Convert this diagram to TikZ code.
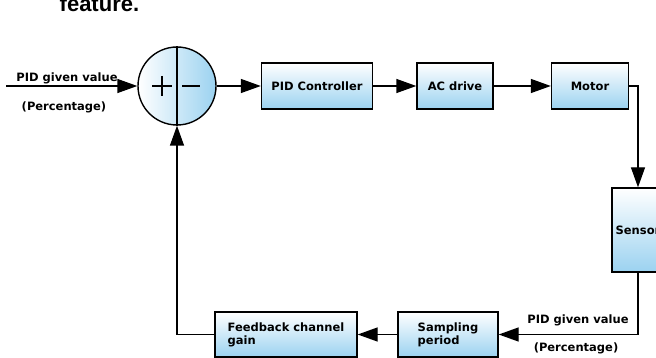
\documentclass[tikz,border=0pt]{standalone}
\usepackage{fontspec}
\setmainfont{DejaVu Sans}
\newfontfamily\headfont{Liberation Sans}
\usetikzlibrary{arrows.meta}
\definecolor{boxblue}{RGB}{155,210,240}

\begin{document}
\begin{tikzpicture}[x=1pt,y=-1pt,line width=1.4pt,
    font=\bfseries\fontsize{11.5}{13}\selectfont,
    blk/.style={draw,top color=white,bottom color=boxblue,minimum height=46pt,inner sep=2pt,align=left},
    arr/.style={-{Triangle[length=20pt,width=14pt]}},
    lbl/.style={inner sep=0pt}]
          % Frame of the picture
          \path[use as bounding box,clip] (0,0) rectangle (656,358);
          % Cut-off heading
          \node[lbl,anchor=base west,font=\headfont\bfseries\fontsize{22}{24}\selectfont] (head) at (59,12) {feature.};
          % Summing point
          \node[draw,circle,minimum size=78pt,left color=white,right color=boxblue] (sum) at (177,86) {};
          \draw[line width=1.2pt] (sum.north) -- (sum.south);
          \draw[line width=1.2pt,shift={(sum.center)}] (-25,0) -- (-5,0) (-15,-10) -- (-15,10) (5,0) -- (23,0);
          % Forward path
          \node[blk,minimum width=111pt] (pid) at (317,86) {PID Controller};
          \node[blk,minimum width=76pt] (acd) at (455,86) {AC drive};
          \node[blk,minimum width=77pt] (motor) at (590,86) {Motor};
          \node[blk,minimum width=52pt,minimum height=84pt] (sensor) at (638,230) {Sensor};
          % Feedback path
          \node[blk,minimum width=100pt,minimum height=45pt] (samp) at (448,334.5) {Sampling\\period};
          \node[blk,minimum width=142pt,minimum height=45pt] (feed) at (286,334.5) {Feedback channel\\gain};
          % Connectors
          \coordinate (in) at (6,86);
          \draw[arr] (in) -- (sum.west);
          \draw[arr] (sum.east) -- (pid.west);
          \draw[arr] (pid.east) -- (acd.west);
          \draw[arr] (acd.east) -- (motor.west);
          \draw[arr] (motor.east) -| (sensor.north);
          \draw[arr] (sensor.south) |- (samp.east);
          \draw[arr] (samp.west) -- (feed.east);
          \draw[arr] (feed.west) -| (sum.south);
          % Signal labels
          \node[lbl] (inval) at (67,78) {PID given value};
          \node[lbl] (inpct) at (64,107) {(Percentage)};
          \node[lbl] (fbval) at (578,320) {PID given value};
          \node[lbl] (fbpct) at (576,348) {(Percentage)};
        \end{tikzpicture}
\end{document}
